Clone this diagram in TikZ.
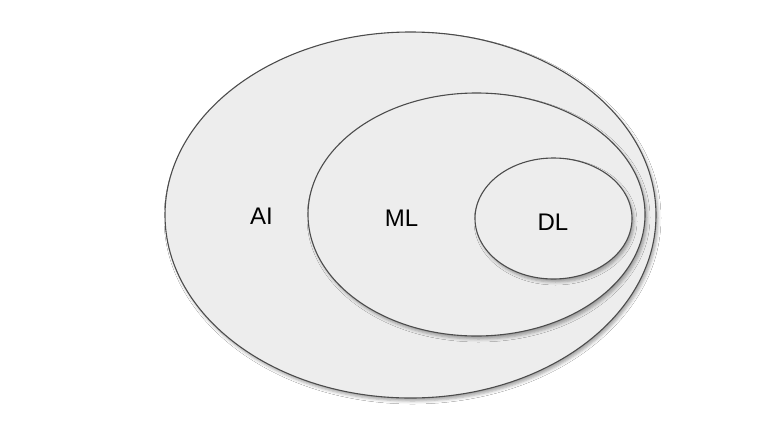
\documentclass[tikz,border=0pt]{standalone}
\usepackage{fontspec}
\setmainfont{Liberation Sans}
\usetikzlibrary{shadows.blur}
\begin{document}
\begin{tikzpicture}[x=1pt,y=-1pt,
  setshape/.style={draw=black!70, line width=1.1pt, fill=black!7,
    blur shadow={shadow xshift=2pt, shadow yshift=-3pt, shadow blur radius=3pt, shadow opacity=35}},
  lbl/.style={font=\fontsize{24}{28}\selectfont, text=black}]
\useasboundingbox (0,0) rectangle (774,432);
\fill[white] (0,0) rectangle (774,432);
\path[setshape] (410.5,215) ellipse [x radius=245.5, y radius=183];
\path[setshape] (476.5,214.5) ellipse [x radius=168.5, y radius=121.5];
\path[setshape] (553.5,218.5) ellipse [x radius=78.5, y radius=60.5];
\node[lbl] (ai) at (261.5,216.5) {AI};
\node[lbl] (ml) at (401.5,218.5) {ML};
\node[lbl] (dl) at (553,222.5) {DL};
\end{tikzpicture}
\end{document}
